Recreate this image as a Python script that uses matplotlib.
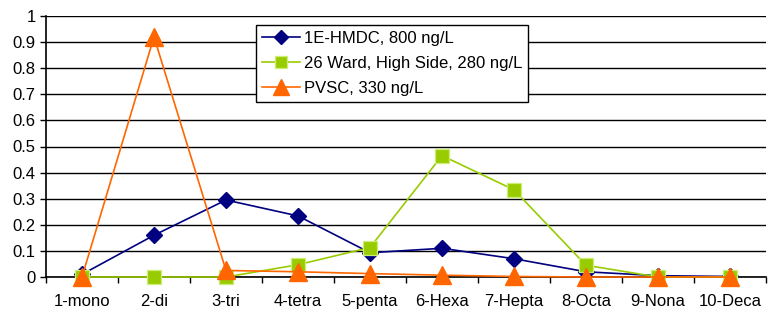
import matplotlib
matplotlib.use("Agg")
import matplotlib.pyplot as plt
import numpy as np

categories = ["1-mono", "2-di", "3-tri", "4-tetra", "5-penta", "6-Hexa", "7-Hepta", "8-Octa", "9-Nona", "10-Deca"]
hmdc = [0.01, 0.16, 0.295, 0.234, 0.093, 0.11, 0.07, 0.02, 0.005, 0.002]
ward = [0.0, 0.0, 0.0, 0.047, 0.113, 0.465, 0.334, 0.045, 0.0, 0.0]
pvsc = [0.0, 0.92, 0.025, 0.02, 0.013, 0.007, 0.002, 0.0, 0.0, 0.0]
labels = ["1E-HMDC, 800 ng/L", "26 Ward, High Side, 280 ng/L", "PVSC, 330 ng/L"]
yticks = [0, 0.1, 0.2, 0.3, 0.4, 0.5, 0.6, 0.7, 0.8, 0.9, 1]
ytick_labels = ["0", "0.1", "0.2", "0.3", "0.4", "0.5", "0.6", "0.7", "0.8", "0.9", "1"]

plt.rcParams['font.family'] = ['Liberation Sans', 'DejaVu Sans']

fig = plt.figure(figsize=(7.7, 3.14), dpi=100)
ax = fig.add_axes([46/770, 1-277/314, 720/770, 261/314])
x = np.arange(len(categories))

ax.plot(x, hmdc, color="#000080", lw=1.2, marker="D", markersize=8.5,
        markerfacecolor="#000080", markeredgecolor="#000080", label=labels[0], zorder=3, clip_on=False)
ax.plot(x, ward, color="#99CC00", lw=1.2, marker="s", markersize=10.5,
        markerfacecolor="#99CC00", markeredgecolor="#CCEE77", markeredgewidth=0.9, label=labels[1], zorder=4, clip_on=False)
ax.plot(x, pvsc, color="#FF6600", lw=1.2, marker="^", markersize=13,
        markerfacecolor="#FF6600", markeredgecolor="#FF6600", label=labels[2], zorder=5, clip_on=False)

ax.set_xlim(-0.5, len(categories) - 0.5)
ax.set_ylim(0, 1)
ax.set_yticks(yticks)
ax.set_yticklabels(ytick_labels, fontsize=12)
ax.set_xticks(x)
ax.set_xticklabels(categories, fontsize=12)
ax.tick_params(axis='x', which='major', length=0, pad=12)
ax.set_xticks(np.arange(-0.5, len(categories), 1.0), minor=True)
ax.tick_params(axis='x', which='minor', length=4.5, direction='out', width=1, color='black')
ax.tick_params(axis='y', length=4.5, direction='out', width=1, color='black', pad=3)

ax.grid(axis='y', color='black', lw=1)
ax.set_axisbelow(True)
for s in ['top', 'right']:
    ax.spines[s].set_visible(False)
ax.spines['left'].set_color('black')
ax.spines['bottom'].set_color('black')
ax.spines['left'].set_linewidth(1.2)
ax.spines['bottom'].set_linewidth(1.2)

leg = ax.legend(loc='upper left', bbox_to_anchor=(256/770, 1-25/314), bbox_transform=fig.transFigure,
                fontsize=12, frameon=True, fancybox=False, edgecolor='black', framealpha=1,
                handlelength=2.3, borderpad=0.35, labelspacing=0.6, handletextpad=0.2, borderaxespad=0,
                markerscale=0.85)
leg.get_frame().set_linewidth(1.0)

fig.savefig("out.png", dpi=100)
